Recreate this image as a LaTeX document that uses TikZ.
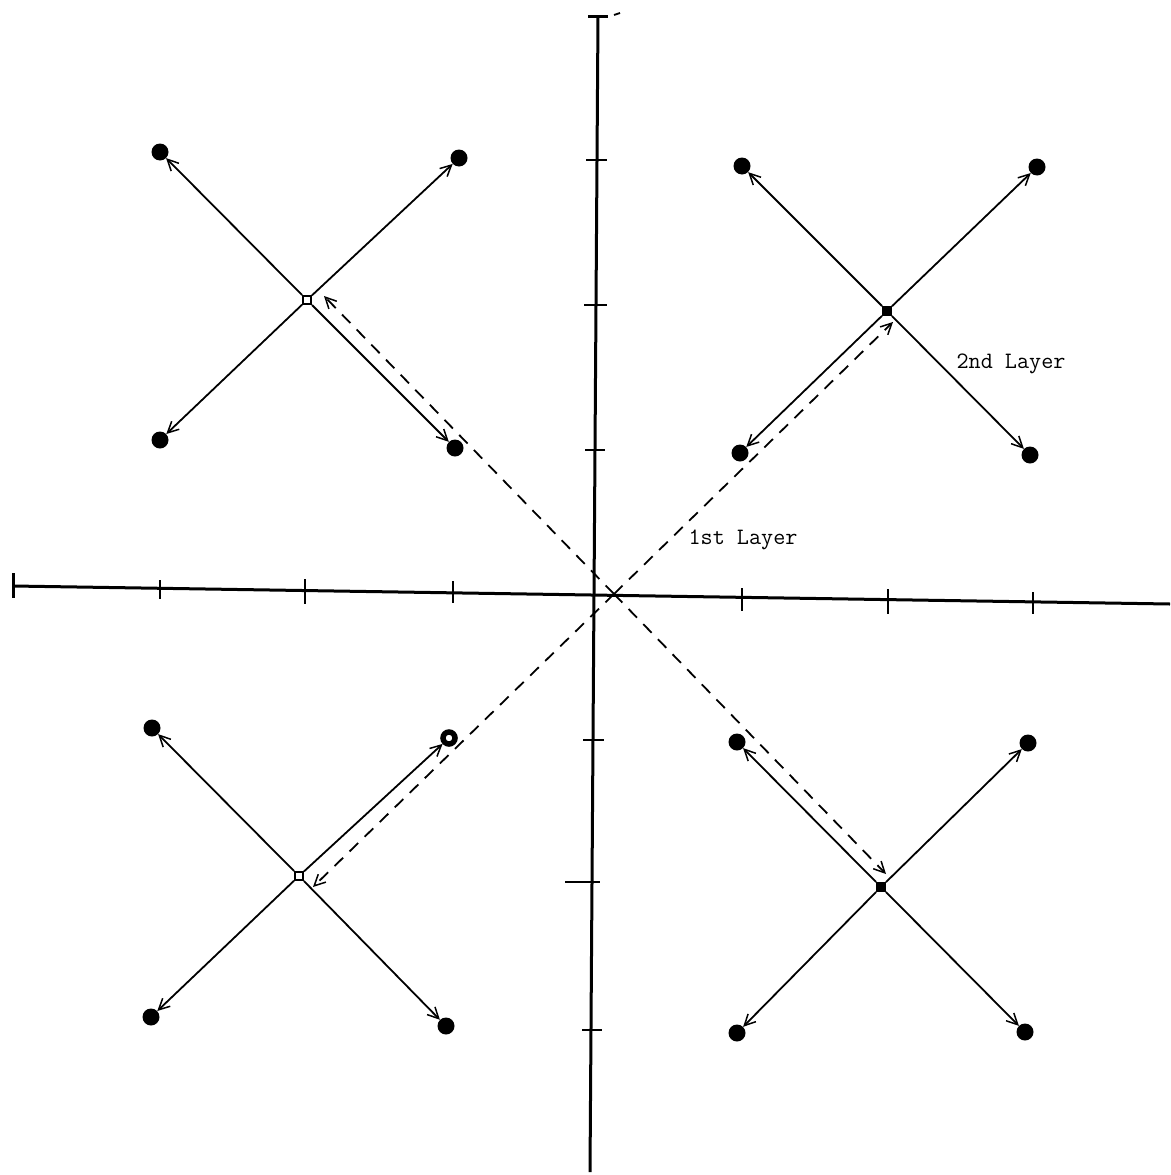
\documentclass[tikz,border=0pt]{standalone}
\usetikzlibrary{arrows.meta}
\tikzset{mybarb/.tip={Straight Barb[length=11pt,width=11pt,line width=1.5pt]}}
\begin{document}
\begin{tikzpicture}[x=1pt,y=-1pt,
  dot/.style={circle,fill=black,inner sep=0pt,minimum size=17pt},
  ringdot/.style={circle,draw=black,fill=white,line width=5.5pt,inner sep=0pt,minimum size=12pt},
  ctr/.style={rectangle,draw=black,line width=2pt,fill=#1,inner sep=0pt,minimum size=8pt},
  arr/.style={line width=1.8pt,-{mybarb}},
  dsh/.style={line width=1.8pt,dash pattern=on 12pt off 9pt,-{mybarb}},
  axis/.style={line width=3pt},
  tick/.style={line width=1.8pt},
  lbl/.style={font=\ttfamily\fontsize{23.5}{23.5}\selectfont,inner sep=0pt}]
\useasboundingbox (0,0) rectangle (1170,1175);

% axes
\coordinate (VT) at (598,16);
\coordinate (VB) at (590,1172);
\coordinate (HL) at (13,586);
\coordinate (HR) at (1170,604);
\draw[axis] (VT) -- (VB);
\draw[axis] (HL) -- (HR);
\draw[axis] (588,16) -- (608,16);
\draw[tick] (614,15) -- (620,13);
\draw[axis] (13,573) -- (13,598);

% vertical axis ticks
\draw[tick] (586,160) -- (607,160);
\draw[tick] (584,305) -- (607,305);
\draw[tick] (585,450) -- (605,450);
\draw[tick] (583,740) -- (604,740);
\draw[tick] (565,882) -- (600,882);
\draw[tick] (582,1030) -- (602,1030);
% horizontal axis ticks
\draw[tick] (160,580) -- (160,599);
\draw[tick] (305,579) -- (305,604);
\draw[tick] (453,581) -- (453,603);
\draw[tick] (742,588) -- (742,611);
\draw[tick] (888,589) -- (888,614);
\draw[tick] (1033,592) -- (1033,614);

% top-left cluster
\node[ctr=white] (c1) at (307,300) {};
\node[dot] (p11) at (160,152) {};
\node[dot] (p12) at (459,158) {};
\node[dot] (p13) at (160,440) {};
\node[dot] (p14) at (455,448) {};
% top-right cluster
\node[ctr=black] (c2) at (887,311) {};
\node[dot] (p21) at (742,166) {};
\node[dot] (p22) at (1037,167) {};
\node[dot] (p23) at (740,453) {};
\node[dot] (p24) at (1030,455) {};
% bottom-left cluster
\node[ctr=white] (c3) at (299,876) {};
\node[dot] (p31) at (152,728) {};
\node[ringdot] (p32) at (449,738) {};
\node[dot] (p33) at (151,1017) {};
\node[dot] (p34) at (446,1026) {};
% bottom-right cluster
\node[ctr=black] (c4) at (881,887) {};
\node[dot] (p41) at (737,742) {};
\node[dot] (p42) at (1028,743) {};
\node[dot] (p43) at (737,1033) {};
\node[dot] (p44) at (1025,1032) {};

\foreach \k in {1,2,3,4}{
  \foreach \j in {1,2,3,4}{
    \draw[arr] (c\k) -- (p\k\j);
  }
}

% first layer dashed connectors
\coordinate (O) at (614,594);
\coordinate (t1) at (324,296);
\coordinate (t2) at (893,322);
\coordinate (t3) at (313,887);
\coordinate (t4) at (886,874);
\foreach \k in {1,2,3,4}{
  \draw[dsh] (O) -- (t\k);
}

% labels
\node[lbl] (l1) at (743,540) {1st Layer};
\node[lbl] (l2) at (1011,364) {2nd Layer};
\end{tikzpicture}
\end{document}
